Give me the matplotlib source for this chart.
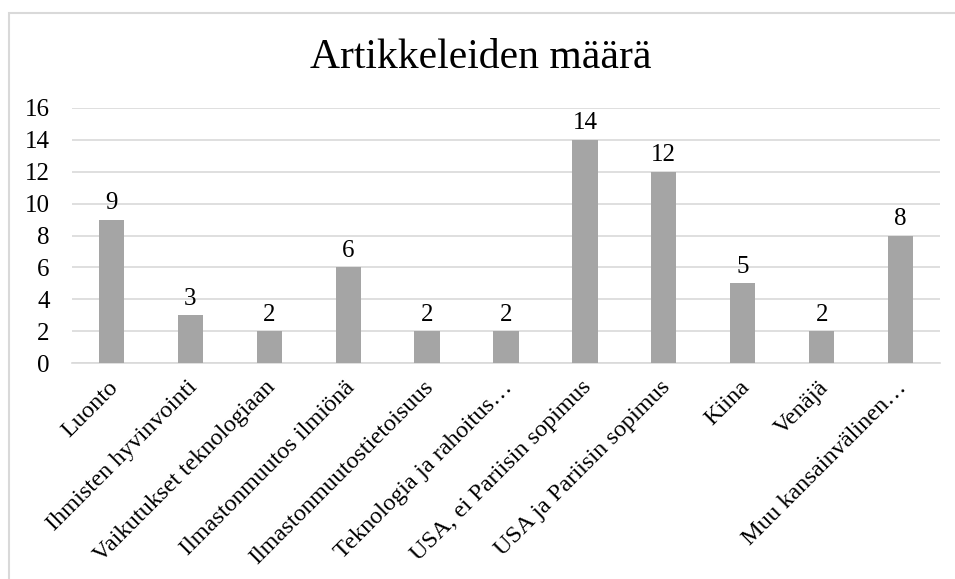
import matplotlib.pyplot as plt
import matplotlib.transforms as mtransforms
from matplotlib.patches import Rectangle

categories = ['Luonto', 'Ihmisten hyvinvointi', 'Vaikutukset teknologiaan',
              'Ilmastonmuutos ilmiönä', 'Ilmastonmuutostietoisuus',
              'Teknologia ja rahoitus…', 'USA, ei Pariisin sopimus',
              'USA ja Pariisin sopimus', 'Kiina', 'Venäjä',
              'Muu kansainvälinen…']
counts = [9, 3, 2, 6, 2, 2, 14, 12, 5, 2, 8]
yticks = [0, 2, 4, 6, 8, 10, 12, 14, 16]

plt.rcParams['font.family'] = ['Liberation Serif', 'DejaVu Serif']

W, H = 955, 579
fig = plt.figure(figsize=(W / 100, H / 100), dpi=100)
# chart area border (Excel style)
fig.patches.append(Rectangle((9 / W, -0.1), 1.2, 1 - 13 / H + 0.1,
                             transform=fig.transFigure, fill=False,
                             edgecolor='#d9d9d9', linewidth=1.5))

ax = fig.add_axes([72 / W, 1 - 363 / H, (940 - 72) / W, (363 - 108) / H])
x = range(len(categories))
ax.bar(x, counts, width=0.32, color='#a5a5a5', zorder=3)
for i, v in zip(x, counts):
    ax.text(i, v + 0.35, str(v), ha='center', va='bottom', fontsize=18)

ax.set_xlim(-0.5, len(categories) - 0.5)
ax.set_ylim(0, 16)
ax.set_yticks(yticks)
ax.set_yticklabels([str(t) for t in yticks], fontsize=18)
ax.yaxis.grid(True, color='#d9d9d9', linewidth=1.2, zorder=0)
ax.set_xticks(list(x))
ax.set_xticklabels(categories, rotation=45, ha='right', rotation_mode='anchor',
                   fontsize=17.5)
ax.tick_params(axis='both', length=0)
ax.tick_params(axis='x', pad=10)
ax.tick_params(axis='y', pad=16)
shift = mtransforms.ScaledTranslation(-4 / 100, 0, fig.dpi_scale_trans)
for lab in ax.get_xticklabels():
    lab.set_transform(lab.get_transform() + shift)
for s in ['top', 'right', 'left']:
    ax.spines[s].set_visible(False)
ax.spines['bottom'].set_color('#d9d9d9')
ax.spines['bottom'].set_linewidth(1.2)

fig.text(0.503, 1 - 58 / H, 'Artikkeleiden määrä', ha='center', va='center',
         fontsize=30)

fig.savefig('out.png', dpi=100)
